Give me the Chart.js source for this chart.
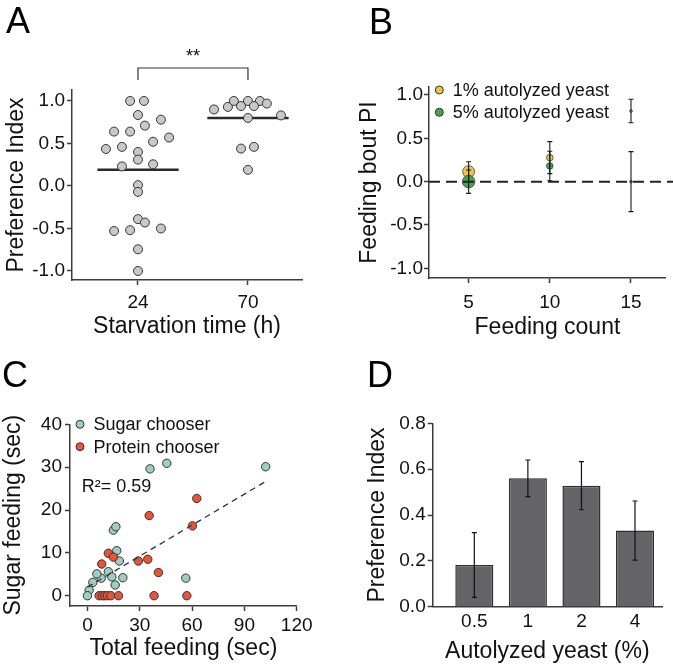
<!DOCTYPE html>
<html>
<head>
<meta charset="utf-8">
<script src="https://cdn.jsdelivr.net/npm/chart.js@4.4.1/dist/chart.umd.min.js"></script>
<style>
  html, body { margin: 0; padding: 0; background: #fff; }
  #fig { position: relative; width: 673px; height: 666px; overflow: hidden; font-family: "Liberation Sans", Arial, sans-serif; }
  canvas { position: absolute; }
  .letra { position: absolute; font-size: 36px; line-height: 36px; color: #000; }
</style>
</head>
<body>
<div id="fig">
  <canvas id="panelA" width="336" height="345" style="left:0;top:0"></canvas>
  <canvas id="panelB" width="337" height="345" style="left:336px;top:0"></canvas>
  <canvas id="panelC" width="336" height="321" style="left:0;top:345px"></canvas>
  <canvas id="panelD" width="337" height="321" style="left:336px;top:345px"></canvas>
  <div class="letra" style="left:6px;top:3px">A</div>
  <div class="letra" style="left:369px;top:4px">B</div>
  <div class="letra" style="left:2px;top:357px">C</div>
  <div class="letra" style="left:367px;top:357px">D</div>
</div>
<script>
// --- datos panel A (indice de preferencia por tiempo de ayuno)
const horas = [24, 70];
const pi24 = [1.0, 1.0, 0.835, 0.78, 0.71, 0.64, 0.64, 0.57, 0.52, 0.435, 0.46, 0.40, 0.31, 0.255, 0.23, 0.01, -0.07, -0.39, -0.43, -0.50, -0.53, -0.52, -0.745, -1.0];
const jitter24 = [-3.3, 2.5, 0, 9.6, 2.9, -10, -3.3, 13, 6.3, -13.4, -6.7, 0, 0, 6.3, -6.7, 0, 0, 0, 2.9, 9.6, -10, -3.3, 0, 0];
const pi70 = [0.90, 0.93, 1.0, 1.0, 1.0, 0.94, 0.94, 0.97, 0.80, 0.83, 0.44, 0.46, 0.19];
const jitter70 = [-14.2, -8.4, -5.9, 0, 5.0, -2.9, 2.5, 7.9, 0, 13.8, -2.9, 2.5, 0];
const medias = [0.19, 0.80];
const ticksA = [-1, -0.5, 0, 0.5, 1];

// --- datos panel B
const conteo = [5, 10, 15];
const pi1 = [0.115, 0.277, 0.815];
const err1 = [0.115, 0.185, 0.135];
const pi5 = [0.0, 0.181, 0.0];
const err5 = [0.135, 0.17, 0.346];
const ticksB = [-1, -0.5, 0, 0.5, 1];
const etiquetasB = ['1% autolyzed yeast', '5% autolyzed yeast'];

// --- datos panel C
const totalAzucar = [102.2, 35.9, 45.5, 14.9, 16.3, 16.8, 18.3, 12.0, 14.0, 20.3, 7.9, 5.4, 3.1, 15.9, 1.0, 0, 56.4];
const azucarAzucar = [30.1, 29.6, 30.9, 15.3, 16.1, 10.5, 8.1, 5.6, 4.4, 4.2, 4.1, 5.1, 3.1, 2.5, 1.3, 0, 4.1];
const totalProteina = [62.7, 35.4, 60.2, 12.0, 14.9, 8.2, 29.2, 34.6, 40.7, 6.7, 8.5, 10.0, 11.5, 13.4, 17.8, 38.2, 57.0];
const azucarProteina = [22.7, 18.7, 16.3, 9.9, 9.0, 7.4, 8.1, 8.5, 5.4, 0, 0, 0, 0, 0, 0, 0, 0];
const ajusteX = [0, 102];
const ajusteY = [2.0, 26.6];
const ticksCx = [0, 30, 60, 90, 120];
const ticksCy = [0, 10, 20, 30, 40];
const etiquetasC = ['Sugar chooser', 'Protein chooser'];

// --- datos panel D
const levadura = ['0.5', '1', '2', '4'];
const piD = [0.182, 0.56, 0.528, 0.332];
const errD = [0.141, 0.08, 0.105, 0.129];
const ticksDy = [0, 0.2, 0.4, 0.6, 0.8];

// estilos
const fuente = '"Liberation Sans", Arial, sans-serif';
Chart.defaults.font.family = fuente;
Chart.defaults.color = '#111';
const colorEje = '#3c3c3c';
const amarillo = '#f0c445', verde = '#3caa4a', turquesa = '#9dcebe', rojo = '#e8543a';
const radio1 = [6, 3.3, 1.4], radio5 = [6.3, 3.3, 1.4];
const anchoMedia = 17;

function eje(c) {
  return {
    type: 'linear', min: c.min, max: c.max, offset: false,
    afterBuildTicks: a => { a.ticks = c.ticks.map(v => ({ value: v })); },
    afterFit: a => { if (c.ancho != null) a.width = c.ancho; if (c.alto != null) a.height = c.alto; },
    border: { display: true, color: colorEje, width: 1.5 },
    grid: { display: true, offset: false, drawOnChartArea: false, drawTicks: c.marcas !== false, tickLength: 5, tickColor: colorEje, tickWidth: 1.5 },
    ticks: { font: { size: 19 }, color: '#111', padding: c.padTick, callback: c.fmt, maxRotation: 0, autoSkip: false },
    title: { display: true, text: c.titulo, font: { size: 23 }, color: '#111', padding: c.padTitulo }
  };
}

const base = (padding) => ({
  responsive: false, animation: false, devicePixelRatio: 1,
  layout: { padding },
  plugins: { legend: { display: false }, tooltip: { enabled: false } }
});

function errores(ctx, x, y, xs, ys, err) {
  xs.forEach((xv, i) => {
    const px = x.getPixelForValue(xv);
    const t = y.getPixelForValue(ys[i] + err[i]);
    const b = y.getPixelForValue(ys[i] - err[i]);
    ctx.beginPath();
    ctx.moveTo(px, t); ctx.lineTo(px, b);
    ctx.moveTo(px - 2.5, t); ctx.lineTo(px + 2.5, t);
    ctx.moveTo(px - 2.5, b); ctx.lineTo(px + 2.5, b);
    ctx.stroke();
  });
}

function leyenda(ctx, items, x, y0, paso) {
  ctx.font = '18px ' + fuente;
  ctx.textBaseline = 'middle';
  items.forEach((it, i) => {
    const y = y0 + i * paso;
    ctx.beginPath();
    ctx.arc(x, y, 4, 0, Math.PI * 2);
    ctx.fillStyle = it.color; ctx.fill();
    ctx.strokeStyle = '#333'; ctx.lineWidth = 1; ctx.stroke();
    ctx.fillStyle = '#111';
    ctx.fillText(it.texto, x + 13.5, y + 1);
  });
}

// ===== Panel A
new Chart(document.getElementById('panelA'), {
  type: 'scatter',
  data: { datasets: [
    { data: pi24.map((v, i) => ({ x: horas[0] + jitter24[i], y: v })), pointRadius: 4.5, pointBackgroundColor: '#c8c8c8', pointBorderColor: '#333', pointBorderWidth: 1 },
    { data: pi70.map((v, i) => ({ x: horas[1] + jitter70[i], y: v })), pointRadius: 4.5, pointBackgroundColor: '#c8c8c8', pointBorderColor: '#333', pointBorderWidth: 1 },
    { data: [{ x: horas[0] - anchoMedia, y: medias[0] }, { x: horas[0] + anchoMedia, y: medias[0] }], showLine: true, borderColor: '#2a2a2a', borderWidth: 2.5, pointRadius: 0 },
    { data: [{ x: horas[1] - anchoMedia, y: medias[1] }, { x: horas[1] + anchoMedia, y: medias[1] }], showLine: true, borderColor: '#2a2a2a', borderWidth: 2.5, pointRadius: 0 }
  ] },
  options: Object.assign(base({ left: 0, top: 90, right: 34, bottom: 0 }), {
    scales: {
      x: eje({ min: -3.6, max: 92.6, ticks: horas, fmt: v => String(v), titulo: 'Starvation time (h)', padTick: 6, padTitulo: 5, alto: 65 }),
      y: eje({ min: -1.106, max: 1.129, ticks: ticksA, fmt: v => v.toFixed(1), titulo: 'Preference Index', padTick: 2, padTitulo: 3, ancho: 72 })
    }
  }),
  plugins: [{
    id: 'corchete',
    afterDraw(chart) {
      const { ctx, scales: { x } } = chart;
      const x1 = x.getPixelForValue(horas[0]), x2 = x.getPixelForValue(horas[1]);
      ctx.save();
      ctx.strokeStyle = '#333'; ctx.lineWidth = 1.2;
      ctx.beginPath(); ctx.moveTo(x1, 80); ctx.lineTo(x1, 68); ctx.lineTo(x2, 68); ctx.lineTo(x2, 80); ctx.stroke();
      ctx.fillStyle = '#111'; ctx.font = '18px ' + fuente; ctx.textAlign = 'center'; ctx.textBaseline = 'alphabetic';
      ctx.fillText('**', (x1 + x2) / 2, 62);
      ctx.restore();
    }
  }]
});

// ===== Panel B
new Chart(document.getElementById('panelB'), {
  type: 'scatter',
  data: { datasets: [
    { data: conteo.map((c, i) => ({ x: c, y: pi5[i] })), pointRadius: radio5, pointBackgroundColor: verde, pointBorderColor: '#444', pointBorderWidth: 0.8 },
    { data: conteo.map((c, i) => ({ x: c, y: pi1[i] })), pointRadius: radio1, pointBackgroundColor: amarillo, pointBorderColor: '#444', pointBorderWidth: 0.8 }
  ] },
  options: Object.assign(base({ left: 0, top: 87, right: 3, bottom: 0 }), {
    scales: {
      x: eje({ min: 2.56, max: 17.15, ticks: conteo, fmt: v => String(v), titulo: 'Feeding count', padTick: 8, padTitulo: 4, alto: 67 }),
      y: eje({ min: -1.112, max: 1.092, ticks: ticksB, fmt: v => v.toFixed(1), titulo: 'Feeding bout PI', padTick: 1, padTitulo: 20, ancho: 93 })
    }
  }),
  plugins: [{
    id: 'extrasB',
    afterDatasetsDraw(chart) {
      const { ctx, scales: { x, y }, chartArea } = chart;
      ctx.save();
      ctx.strokeStyle = '#1a1a1a'; ctx.lineWidth = 1.1;
      errores(ctx, x, y, conteo, pi1, err1);
      errores(ctx, x, y, conteo, pi5, err5);
      // linea de referencia en cero
      const y0 = y.getPixelForValue(0);
      ctx.setLineDash([11, 6]); ctx.lineWidth = 2; ctx.strokeStyle = '#222';
      ctx.beginPath(); ctx.moveTo(chartArea.left, y0); ctx.lineTo(chart.width, y0); ctx.stroke();
      ctx.setLineDash([]);
      leyenda(ctx, [{ color: amarillo, texto: etiquetasB[0] }, { color: verde, texto: etiquetasB[1] }], 103.3, 90, 22.3);
      ctx.restore();
    }
  }]
});

// ===== Panel C
new Chart(document.getElementById('panelC'), {
  type: 'scatter',
  data: { datasets: [
    { data: ajusteX.map((v, i) => ({ x: v, y: ajusteY[i] })), showLine: true, borderColor: '#333', borderWidth: 1.3, borderDash: [6, 4.5], pointRadius: 0 },
    { data: totalProteina.map((v, i) => ({ x: v, y: azucarProteina[i] })), pointRadius: 4.2, pointBackgroundColor: rojo, pointBorderColor: '#333', pointBorderWidth: 1 },
    { data: totalAzucar.map((v, i) => ({ x: v, y: azucarAzucar[i] })), pointRadius: 4.2, pointBackgroundColor: turquesa, pointBorderColor: '#333', pointBorderWidth: 1 }
  ] },
  options: Object.assign(base({ left: 0, top: 79.3, right: 39.3, bottom: 0 }), {
    scales: {
      x: eje({ min: -10, max: 120, ticks: ticksCx, fmt: v => String(v), titulo: 'Total feeding (sec)', padTick: 3, padTitulo: 4, alto: 60 }),
      y: eje({ min: -2.4, max: 40, ticks: ticksCy, fmt: v => String(v), titulo: 'Sugar feeding (sec)', padTick: 3, padTitulo: 0, ancho: 70 })
    }
  }),
  plugins: [{
    id: 'extrasC',
    afterDraw(chart) {
      const { ctx } = chart;
      ctx.save();
      leyenda(ctx, [{ color: turquesa, texto: etiquetasC[0] }, { color: rojo, texto: etiquetasC[1] }], 80, 79.3, 22.4);
      ctx.fillStyle = '#111'; ctx.font = '18px ' + fuente; ctx.textBaseline = 'alphabetic'; ctx.textAlign = 'left';
      ctx.fillText('R\u00b2= 0.59', 81.7, 147);
      ctx.restore();
    }
  }]
});

// ===== Panel D
new Chart(document.getElementById('panelD'), {
  type: 'bar',
  data: { datasets: [
    { data: piD.map((v, i) => ({ x: i, y: v })), backgroundColor: '#646468', borderColor: '#2e2e2e', borderWidth: 1.5, categoryPercentage: 1, barPercentage: 0.71 }
  ] },
  options: Object.assign(base({ left: 0, top: 78.3, right: 11, bottom: 0 }), {
    scales: {
      x: eje({ min: -0.777, max: 3.504, ticks: [0, 1, 2, 3], fmt: v => levadura[v], titulo: 'Autolyzed yeast (%)', padTick: 4, padTitulo: 1, alto: 59.3, marcas: false }),
      y: eje({ min: 0, max: 0.8, ticks: ticksDy, fmt: v => v.toFixed(1), titulo: 'Preference Index', padTick: 2, padTitulo: 28, ancho: 96.7 })
    }
  }),
  plugins: [{
    id: 'erroresD',
    afterDatasetsDraw(chart) {
      const { ctx, scales: { x, y } } = chart;
      ctx.save();
      ctx.strokeStyle = '#111'; ctx.lineWidth = 1.2;
      errores(ctx, x, y, piD.map((_, i) => i), piD, errD);
      ctx.restore();
    }
  }]
});
</script>
</body>
</html>
